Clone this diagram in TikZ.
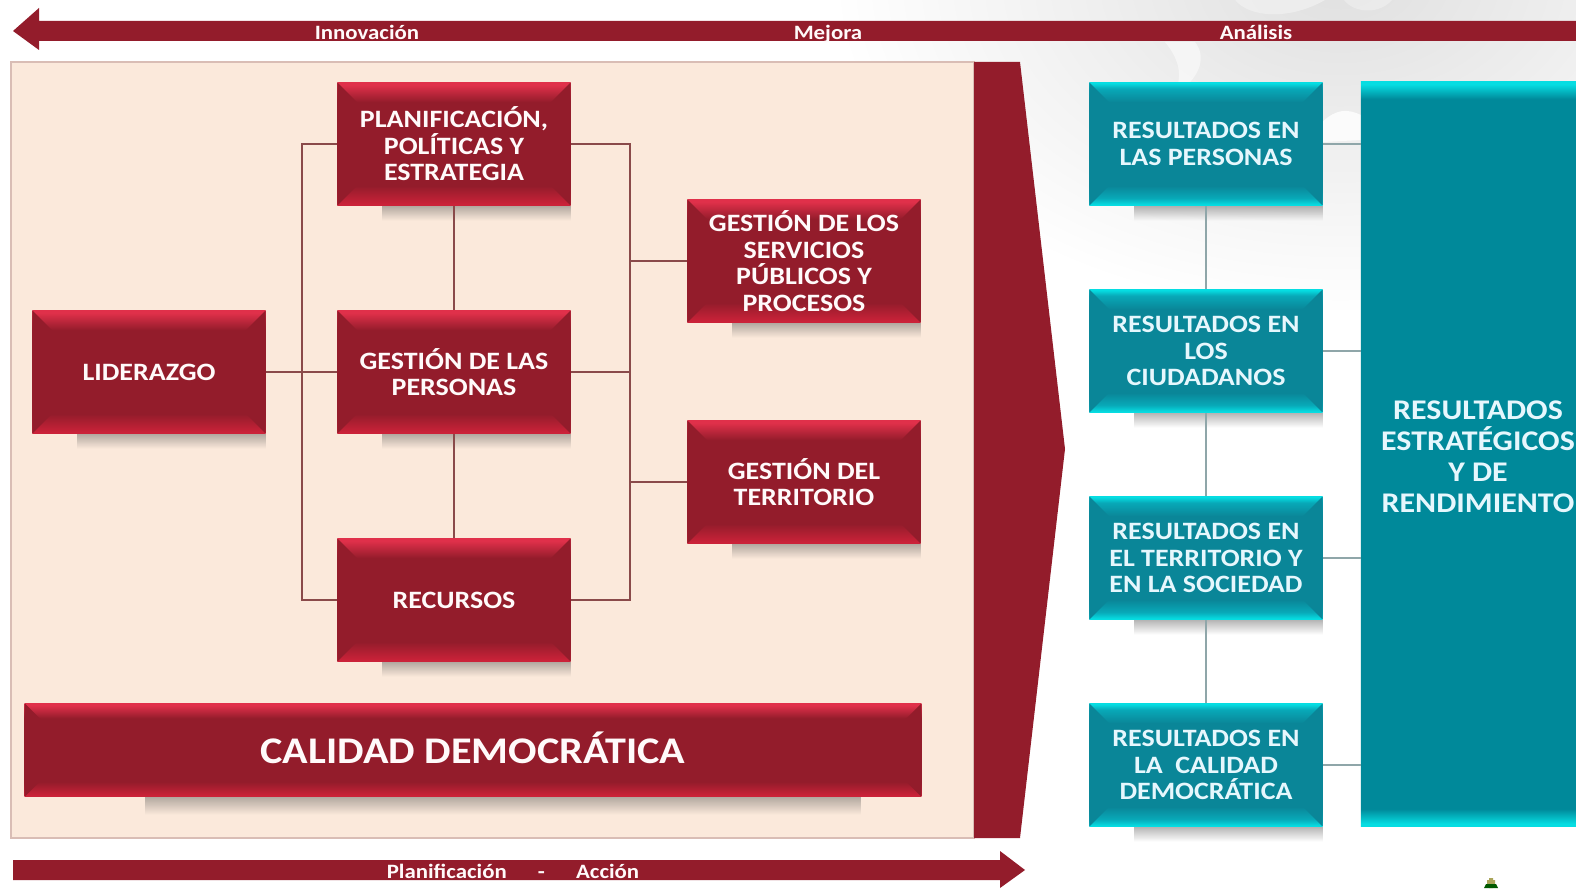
\documentclass[tikz,border=0pt]{standalone}
\usepackage{fontspec}
\setmainfont{Carlito}[BoldFeatures={FakeStretch=1.12}]
\usetikzlibrary{fadings}
\definecolor{darkred}{HTML}{931C2B}
\definecolor{redtop}{HTML}{E0304A}
\definecolor{redbot}{HTML}{CB2239}
\definecolor{darkteal}{HTML}{0A8698}
\definecolor{midteal}{HTML}{08A9B8}
\definecolor{talltop}{HTML}{06DDE2}
\definecolor{tallmid}{HTML}{00899A}
\definecolor{panelcol}{HTML}{FBE9DB}
\definecolor{panelline}{HTML}{D9BDB5}
\definecolor{redline}{HTML}{8A4A4A}
\definecolor{tealline}{HTML}{8FA6A9}
\pgfdeclareverticalshading{redbevel}{100bp}{color(0bp)=(redbot);color(25.5bp)=(redbot);color(33bp)=(darkred);color(67bp)=(darkred);color(74bp)=(redtop);color(100bp)=(redtop)}
\pgfdeclareverticalshading{tealbevel}{100bp}{color(0bp)=(talltop);color(25.3bp)=(talltop);color(28bp)=(midteal);color(33bp)=(darkteal);color(67bp)=(darkteal);color(72.5bp)=(midteal);color(74.7bp)=(talltop);color(100bp)=(talltop)}
\pgfdeclareverticalshading{tallbevel}{100bp}{color(0bp)=(talltop);color(25.2bp)=(talltop);color(26.2bp)=(tallmid);color(73.8bp)=(tallmid);color(74.8bp)=(talltop);color(100bp)=(talltop)}
\tikzfading[name=flowerfade,inner color=transparent!25,outer color=transparent!100]
\tikzset{
  x=0.01cm,y=-0.01cm,
  corners/.style={path picture={
    \fill[#1] (path picture bounding box.north west) -- ++(20,20) -- ++(-20,0) -- cycle;
    \fill[#1] (path picture bounding box.north east) -- ++(-20,20) -- ++(20,0) -- cycle;
    \fill[#1] (path picture bounding box.south west) -- ++(20,-20) -- ++(-20,0) -- cycle;
    \fill[#1] (path picture bounding box.south east) -- ++(-20,-20) -- ++(20,0) -- cycle;
  }},
  softshadow/.style={fill=black!70,opacity=0.42,path fading=south},
  redbox/.style={shade,shading=redbevel,corners=darkred,text=white!92!pink,font=\bfseries\fontsize{7.1}{7.55}\selectfont,
    align=center,inner sep=0pt,outer sep=0pt,minimum width=2.33cm,minimum height=1.23cm},
  tealbox/.style={shade,shading=tealbevel,corners=darkteal,text=white!90!cyan,font=\bfseries\fontsize{7.1}{7.55}\selectfont,
    align=center,inner sep=0pt,outer sep=0pt,minimum width=2.33cm,minimum height=1.23cm},
  barlabel/.style={text=white!92!pink,font=\bfseries\fontsize{5.8}{6}\selectfont,inner sep=0pt,text height=0.13cm,text depth=0.03cm},
  redwire/.style={draw=redline,line width=0.6pt},
  tealwire/.style={draw=tealline,line width=0.8pt},
}
\begin{document}
\begin{tikzpicture}
  \useasboundingbox (0,0) rectangle (1576,888);
  \fill[white] (0,0) rectangle (1576,888);
  \fill[black!16,path fading=flowerfade] (1340,-20) ellipse (500 and 330);
  \fill[black!6,opacity=0.8] (1235,0) .. controls (1250,18) and (1290,20) .. (1325,0) -- cycle;
  \fill[black!7,opacity=0.8] (1344,0) .. controls (1355,14) and (1380,14) .. (1392,0) -- cycle;
  \fill[white,opacity=0.8] (1315,130) .. controls (1335,105) and (1350,110) .. (1361,115) -- (1361,140) -- (1323,142) -- cycle;
  \fill[white,opacity=0.5] (1165,42) .. controls (1180,60) and (1185,80) .. (1170,100) .. controls (1205,75) and (1205,55) .. (1195,42) -- cycle;
  \draw[panelline,fill=panelcol,line width=0.5pt] (11,62) rectangle (974,838);
  \fill[darkred] (13,31) -- (39,8) -- (39,21) -- (1576,21) -- (1576,41) -- (39,41) -- (39,50) -- cycle;
  \fill[darkred] (13,860) -- (1000,860) -- (1000,851) -- (1025,870) -- (1000,888) -- (1000,880) -- (13,880) -- cycle;
  \fill[darkred] (974,62) -- (1020,62) -- (1065,449) -- (1020,838) -- (974,838) -- cycle;
  \fill[yellow!55!black!85] (1487,880) rectangle (1495,884) (1489,878) rectangle (1493,888);
  \fill[green!35!black] (1486,884) -- (1496,884) -- (1498,888) -- (1484,888) -- cycle;
  \draw
    (367,34) node[barlabel] (innov){Innovación}
    (828,34) node[barlabel] (mejora){Mejora}
    (1256,34) node[barlabel] (analisis){Análisis}
    (513,873.5) node[barlabel] (planif){Planificación \hspace{0.26cm}-\hspace{0.26cm} Acción};
  \draw
    (149,372) node[redbox] (lider){LIDERAZGO}
    (454,144) node[redbox] (plan){PLANIFICACIÓN,\\POLÍTICAS Y\\ESTRATEGIA}
    (454,372) node[redbox] (pers){GESTIÓN DE LAS\\PERSONAS}
    (454,600) node[redbox] (recur){RECURSOS}
    (804,261) node[redbox] (serv){GESTIÓN DE LOS\\SERVICIOS\\PÚBLICOS Y\\PROCESOS}
    (804,482) node[redbox] (terr){GESTIÓN DEL\\TERRITORIO}
    (473,750) node[redbox,minimum width=8.96cm,minimum height=0.93cm,text height=0.27cm,text depth=0pt,font=\bfseries\fontsize{10.7}{12}\selectfont] (cal){CALIDAD DEMOCRÁTICA}
    (1206,144) node[tealbox] (rpers){RESULTADOS EN\\LAS PERSONAS}
    (1206,351) node[tealbox] (rciud){RESULTADOS EN\\LOS\\CIUDADANOS}
    (1206,558) node[tealbox] (rterr){RESULTADOS EN\\EL TERRITORIO Y\\EN LA SOCIEDAD}
    (1206,765) node[tealbox] (rcal){RESULTADOS EN\\LA \ CALIDAD\\DEMOCRÁTICA}
    (1469,454) node[shade,shading=tallbevel,inner sep=0pt,outer sep=0pt,minimum width=2.16cm,minimum height=7.45cm] (rest){}
    (1478,457) node[text=white!90!cyan,font=\bfseries\fontsize{8.1}{8.8}\selectfont,align=center,inner sep=0pt] (resttxt){RESULTADOS\\ESTRATÉGICOS\\Y DE\\RENDIMIENTO};
  \foreach \n in {lider,plan,pers,recur,serv,terr,rpers,rciud,rterr,rcal}
    \fill[softshadow] ([xshift=0.45cm]\n.south west) rectangle ([yshift=-0.15cm]\n.south east);
  \fill[softshadow] ([xshift=1.2cm]cal.south west) rectangle ([xshift=-0.6cm,yshift=-0.18cm]cal.south east);
  \coordinate (busl) at (302,372);
  \coordinate (busr) at (630,372);
  \begin{scope}[redwire]
    \draw (lider) to (pers);
    \draw (plan) to (pers);
    \draw (pers) to (recur);
    \draw (plan.west) -| (busl) |- (recur.west);
    \draw (plan.east) -| (busr) |- (recur.east);
    \draw (pers) to (busr);
    \draw (busr |- serv) to (serv);
    \draw (busr |- terr) to (terr);
  \end{scope}
  \begin{scope}[tealwire]
    \draw (rpers) to (rciud);
    \draw (rciud) to (rterr);
    \draw (rterr) to (rcal);
    \draw (rpers.east) to (rest.west |- rpers);
    \draw (rciud.east) to (rest.west |- rciud);
    \draw (rterr.east) to (rest.west |- rterr);
    \draw (rcal.east) to (rest.west |- rcal);
  \end{scope}
\end{tikzpicture}
\end{document}
